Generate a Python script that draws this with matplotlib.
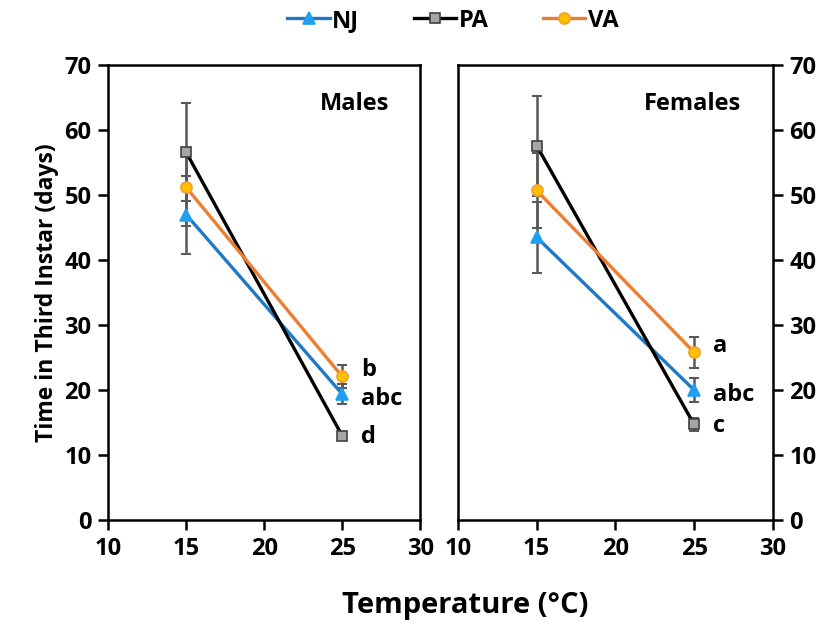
import numpy as np
import matplotlib.pyplot as plt

plt.rcParams['font.family'] = ['Open Sans', 'DejaVu Sans']
plt.rcParams['font.weight'] = 'bold'

temps = [15, 25]
sites = ['NJ', 'PA', 'VA']

# means and standard errors, males then females
males = {'NJ': [47.0, 19.4], 'PA': [56.6, 13.0], 'VA': [51.2, 22.1]}
males_err = {'NJ': [6.0, 1.5], 'PA': [7.5, 0.5], 'VA': [5.9, 1.8]}
females = {'NJ': [43.5, 20.0], 'PA': [57.6, 14.7], 'VA': [50.7, 25.8]}
females_err = {'NJ': [5.5, 1.8], 'PA': [7.7, 1.0], 'VA': [5.8, 2.4]}

males_letters = {'VA': 'b', 'NJ': 'abc', 'PA': 'd'}
females_letters = {'VA': 'a', 'NJ': 'abc', 'PA': 'c'}
# small vertical nudges so the letters don't collide
letter_nudge = {'VA': 1.0, 'NJ': -0.8, 'PA': -0.3}

styles = {
    'NJ': dict(color='#1f78c8', marker='^', mfc='#1e9ff0', mec='#1e9ff0', ms=8),
    'PA': dict(color='black', marker='s', mfc='#a6a6a6', mec='#404040', ms=7),
    'VA': dict(color='#ed7d31', marker='o', mfc='#ffc000', mec='#f0a030', ms=8),
}


def draw_panel(ax, means, errs, letters, title):
    for s in sites:
        ax.errorbar(temps, means[s], yerr=errs[s], fmt='none', ecolor='#595959',
                    elinewidth=1.8, capsize=3.5, capthick=1.5, zorder=2)
    for s in sites:
        st = styles[s]
        ax.plot(temps, means[s], color=st['color'], lw=2.4, marker=st['marker'],
                mfc=st['mfc'], mec=st['mec'], ms=st['ms'], mew=1.2, zorder=3, label=s)
        ax.text(26.2, means[s][1] + letter_nudge[s], letters[s], fontsize=17,
                fontweight='bold', va='center', ha='left')
    ax.set_xlim(10, 30)
    ax.set_ylim(0, 70)
    ax.set_xticks([10, 15, 20, 25, 30])
    ax.set_yticks(range(0, 71, 10))
    ax.tick_params(direction='out', length=7, width=1.8, labelsize=17, pad=5)
    for lab in ax.get_xticklabels() + ax.get_yticklabels():
        lab.set_fontweight('bold')
    for sp in ax.spines.values():
        sp.set_linewidth(1.8)
    ax.text(0.90, 0.94, title, transform=ax.transAxes, fontsize=17,
            fontweight='bold', ha='right', va='top')


fig = plt.figure(figsize=(8.31, 6.25), dpi=100)
ax1 = fig.add_axes([0.130, 0.168, 0.3755, 0.728])
ax2 = fig.add_axes([0.551, 0.168, 0.379, 0.728])

draw_panel(ax1, males, males_err, males_letters, 'Males')
draw_panel(ax2, females, females_err, females_letters, 'Females')

ax2.yaxis.tick_right()
for lab in ax2.get_yticklabels():
    lab.set_fontweight('bold')
ax1.set_ylabel('Time in Third Instar (days)', fontsize=16.5, fontweight='bold', labelpad=4)
fig.text(0.56, 0.02, 'Temperature (°C)', fontsize=21, fontweight='bold', ha='center')

handles, labels = ax1.get_legend_handles_labels()
fig.legend(handles, labels, loc='upper center', bbox_to_anchor=(0.545, 1.02), ncol=3,
           frameon=False, prop={'size': 17, 'weight': 'bold'}, handlelength=1.8,
           handletextpad=0.1, columnspacing=2.3)

fig.savefig('out.png', dpi=100)
